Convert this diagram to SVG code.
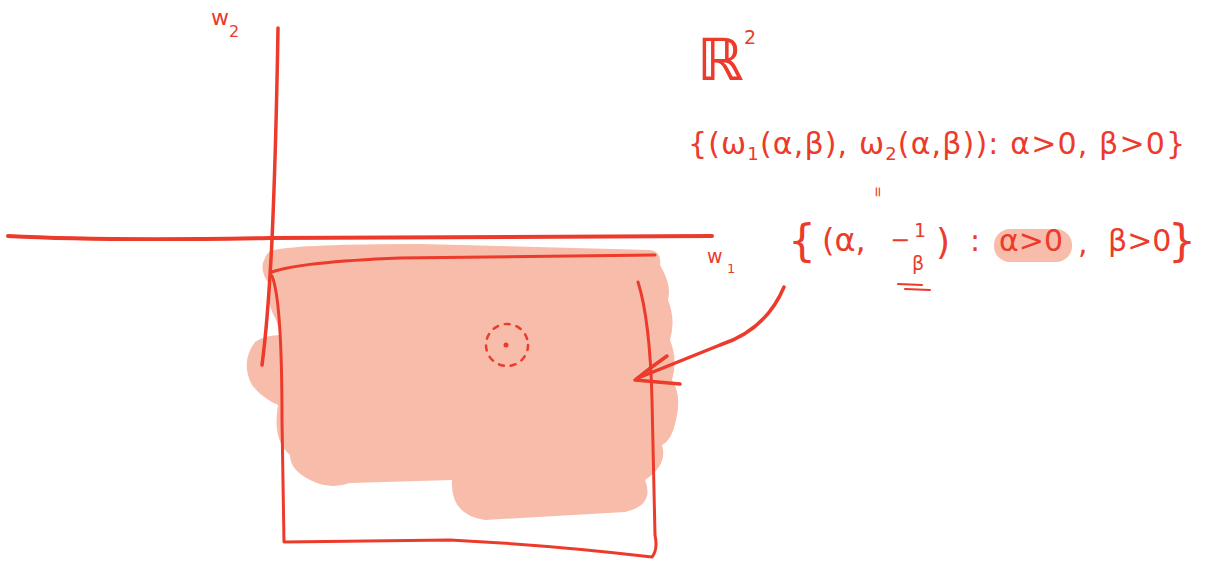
<svg xmlns="http://www.w3.org/2000/svg" width="1210" height="563" viewBox="0 0 1210 563">
<style>
.ink{fill:none;stroke:#ec3a2b;stroke-linecap:round;stroke-linejoin:round}
.t{fill:#ec3a2b;font-family:"DejaVu Sans","Liberation Sans",sans-serif}
.hl{fill:#f7bcaa}
</style>
<rect width="1210" height="563" fill="#ffffff"/>
<g id="region">
<path class="hl" d="M275,250 Q300,244 420,244 L650,250 Q662,252 660,265 Q672,285 668,300 Q676,320 670,340 Q678,360 672,380 Q682,395 676,420 Q672,440 662,445 Q668,465 645,480 Q655,505 625,512 L485,520 Q450,515 452,480 L350,483 Q330,490 310,480 Q290,470 290,455 Q272,440 278,405 Q262,398 252,385 Q240,362 255,342 Q265,335 281,335 L276,320 Q265,300 270,285 Q258,270 265,258 Q268,250 275,250 Z"/>
</g>
<g id="axes">
<path class="ink" stroke-width="4" d="M8,236 Q100,241 270,238 L712,236"/>
<path class="ink" stroke-width="3.5" d="M278,28 Q276,150 272,240 Q268,320 262,365"/>
<text class="t" x="211" y="25" font-size="22">w</text>
<text class="t" x="229" y="37" font-size="16">2</text>
<text class="t" x="707" y="263" font-size="19">w</text>
<text class="t" x="727" y="273" font-size="13">1</text>
</g>
<g id="rectangle">
<path class="ink" stroke-width="3" d="M272,272 Q300,262 400,258 L655,255"/>
<path class="ink" stroke-width="3" d="M272,276 Q282,300 282,420 L284,542 L450,540 Q550,545 652,557 Q658,550 655,535 L652,400 Q650,320 638,282"/>
</g>
<g id="point">
<circle class="ink" cx="507" cy="345" r="21" stroke-width="2.5" stroke-dasharray="5 7"/>
<circle cx="506" cy="345" r="2.5" fill="#ec3a2b"/>
</g>
<g id="labels">
<text class="t" x="697" y="80" font-size="58" font-weight="bold">ℝ</text>
<text class="t" x="744" y="44" font-size="19">2</text>
<text class="t" x="688" y="154" font-size="30" textLength="497" lengthAdjust="spacing">{(ω<tspan font-size="18" dy="6">1</tspan><tspan dy="-6">(α,β), ω</tspan><tspan font-size="18" dy="6">2</tspan><tspan dy="-6">(α,β)): α&gt;0, β&gt;0}</tspan></text>
<text class="t" x="0" y="0" font-size="14" transform="translate(873,186) rotate(90)">=</text>
<rect class="hl" x="994" y="229" width="78" height="33" rx="16"/>
<text class="t" x="788" y="256" font-size="44">{</text>
<text class="t" x="822" y="251" font-size="32">(α,</text>
<text class="t" x="890" y="248" font-size="24">−</text>
<text class="t" x="914" y="237" font-size="19">1</text>
<text class="t" x="912" y="270" font-size="19">β</text>
<text class="t" x="936" y="254" font-size="36">)</text>
<text class="t" x="970" y="251" font-size="30">:</text>
<text class="t" x="999" y="251" font-size="30">α&gt;0</text>
<text class="t" x="1078" y="253" font-size="30">,</text>
<text class="t" x="1108" y="251" font-size="30">β&gt;0</text>
<text class="t" x="1168" y="256" font-size="44">}</text>
<path class="ink" stroke-width="2" d="M898,284 L922,285 M905,289 L930,290"/>
</g>
<g id="connectors">
<path class="ink" stroke-width="3.5" d="M784,287 Q766,330 720,345 L638,378"/>
<path class="ink" stroke-width="3.5" d="M667,356 Q650,368 635,380 L680,384"/>
</g>
</svg>
